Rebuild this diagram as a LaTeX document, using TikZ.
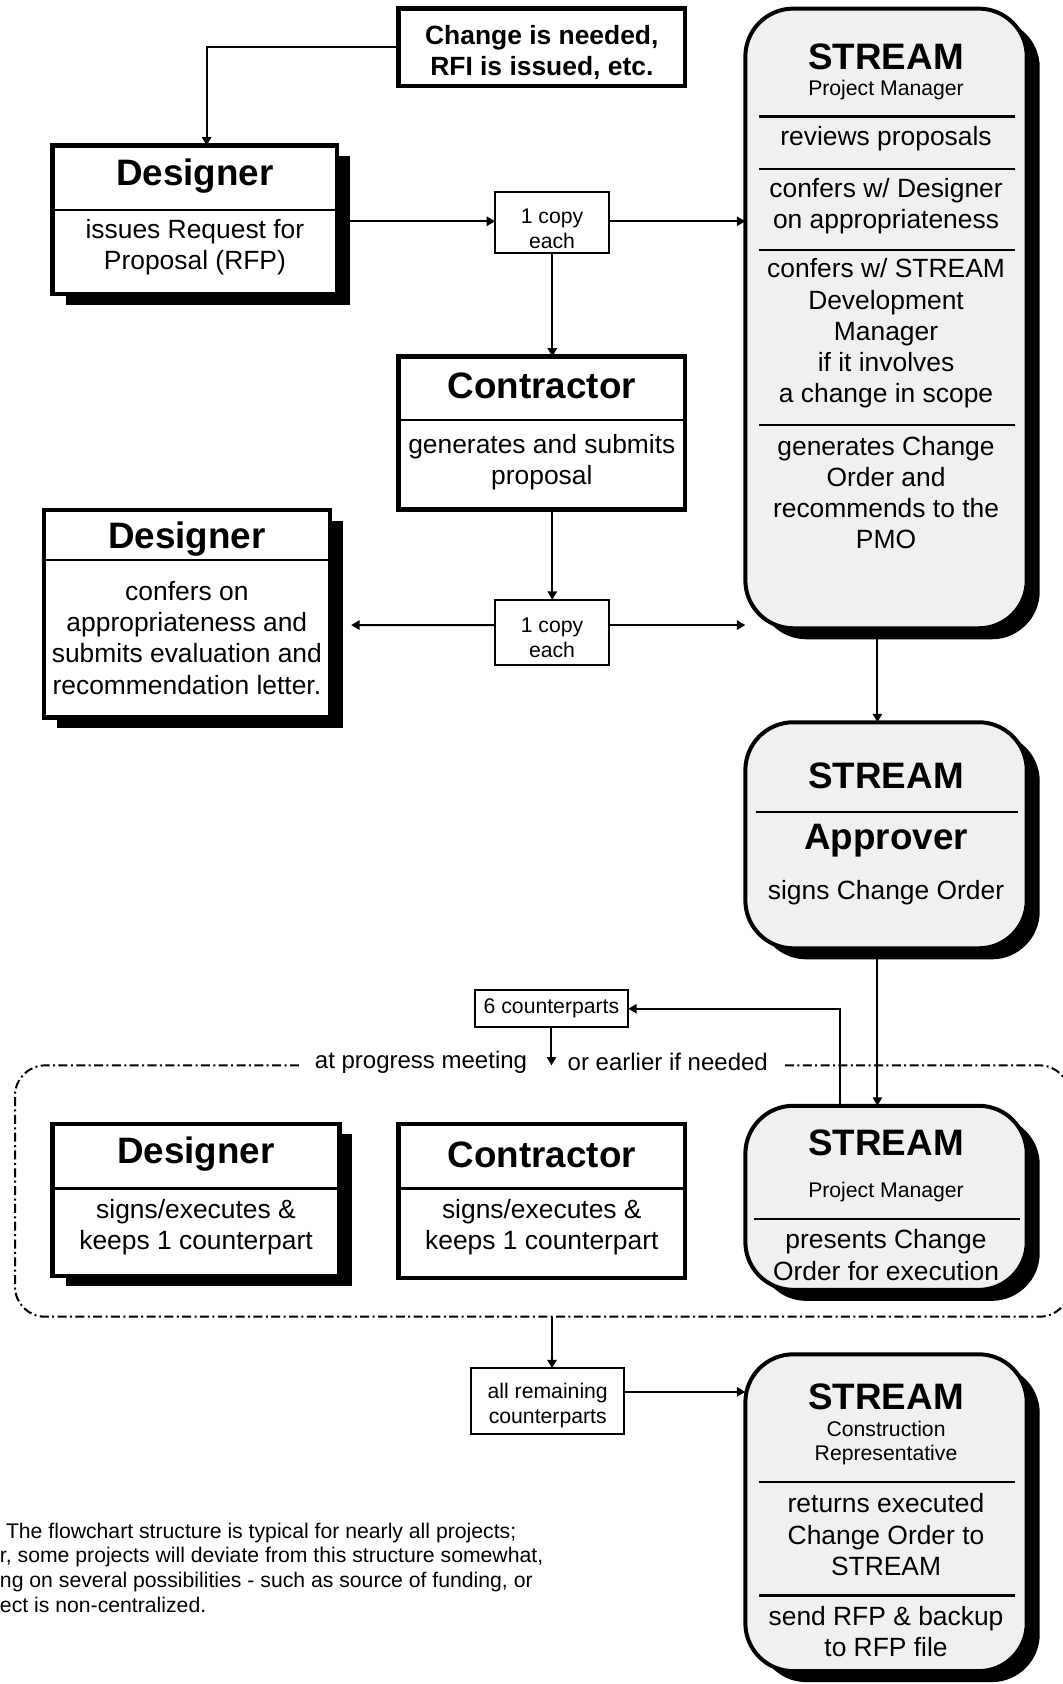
\documentclass[tikz,border=0pt]{standalone}
\usepackage{fontspec}
\setmainfont{Liberation Sans}
\usetikzlibrary{arrows.meta,shadows,fit}
\definecolor{boxgray}{RGB}{240,240,240}
\begin{document}
\begin{tikzpicture}[x=0.5369pt,y=-0.5369pt,
  every node/.style={inner sep=0pt,outer sep=0pt},
  arr/.style={line width=1pt,-{Triangle[length=4.2pt,width=4.6pt]}},
  rbox/.style={draw,line width=2.2pt,fill=white,inner sep=0pt},
  sbox/.style={rbox,general shadow={fill=black,shadow xshift=6.5pt,shadow yshift=-5.2pt}},
  stbox/.style={draw,line width=2pt,fill=boxgray,rounded corners=24pt,inner sep=0pt,
    general shadow={fill=black,shadow xshift=6.5pt,shadow yshift=-5.5pt}},
  cbox/.style={draw,line width=1pt,fill=white,inner sep=0pt},
  sepl/.style={line width=1.3pt},
  ttl/.style={font=\fontsize{18.4}{22}\selectfont\bfseries},
  bd/.style={font=\fontsize{13.2}{15.6}\selectfont,align=center},
  bdb/.style={font=\fontsize{13.2}{15.6}\selectfont\bfseries,align=center},
  sm/.style={font=\fontsize{10.6}{12.3}\selectfont,align=center},
  lab/.style={font=\fontsize{12}{14}\selectfont,inner xsep=8pt,inner ysep=1pt},
  frame/.style={line width=1pt,dash pattern=on 4.5pt off 1.7pt on 1pt off 1.7pt,rounded corners=15pt},
]
\useasboundingbox[fill=white] (0,0) rectangle (989,1568);

% ---------- boxes ----------
\node[rbox, fit={(371,8) (638,80)}] (chg) {};
\node[sbox, fit={(49,135.5) (314,274)}] (d1) {};
\node[cbox, fit={(461,179) (567.5,235.5)}] (c1) {};
\node[stbox, fit={(694,8) (956,585)}] (pm1) {};
\node[rbox, fit={(371,332) (638,474.5)}] (ctr) {};
\node[cbox, fit={(461,558.5) (567.5,619.5)}] (c2) {};
\node[sbox, fit={(41,475) (307,668)}] (d2) {};
\node[stbox, fit={(694,672.5) (956,883)}] (ap) {};
\node[cbox, fit={(442,922) (585,956.5)}] (c6) {};
\node[sbox, fit={(49,1046.6) (316,1188)}] (d3) {};
\node[rbox, fit={(371,1046.6) (638,1190)}] (ctr2) {};
\node[stbox, fit={(694,1029.6) (956,1201)}] (pm2) {};
\node[cbox, fit={(439,1274) (581,1335)}] (ar) {};
\node[stbox, fit={(694,1261) (956,1556)}] (cr) {};

% ---------- separators ----------
\draw[sepl] (d1.west |- 0,195.6) -- (d1.east |- 0,195.6);
\draw[sepl] (ctr.west |- 0,391) -- (ctr.east |- 0,391);
\draw[sepl] (d2.west |- 0,521.5) -- (d2.east |- 0,521.5);
\draw[sepl] (d3.west |- 0,1106.5) -- (d3.east |- 0,1106.5);
\draw[sepl] (ctr2.west |- 0,1106.5) -- (ctr2.east |- 0,1106.5);
\foreach \yy in {108.7,157.4,232.8,395.8}{\draw[sepl] (707,\yy) -- (945,\yy);}
\draw[sepl] (703.5,755.9) -- (948.3,755.9);
\draw[sepl] (702,1135) -- (949.5,1135);
\draw[sepl] (707,1380) -- (945,1380);
\draw[sepl] (707,1485.4) -- (945,1485.4);

% ---------- texts ----------
\node[bdb] (chgT) at (504.5,49) {Change is needed,\\RFI is issued, etc.};
\node[ttl] (d1T) at (181.5,164) {Designer};
\node[bd] (d1B) at (181.5,230.5) {issues Request for\\Proposal (RFP)};
\node[sm] (c1T) at (514,213) {1 copy\\each};
\node[ttl] (pm1T) at (825,53) {STREAM};
\node[sm] (pm1S) at (825,84) {Project Manager};
\node[bd] (pm1a) at (825,129.5) {reviews proposals};
\node[bd] (pm1b) at (825,192) {confers w/ Designer\\on appropriateness};
\node[bd] (pm1c) at (825,310.5) {confers w/ STREAM\\Development\\Manager\\if it involves\\a change in scope};
\node[bd] (pm1d) at (825,458.5) {generates Change\\Order and\\recommends to the\\PMO};
\node[ttl] (ctrT) at (504.5,359) {Contractor};
\node[bd] (ctrB) at (504.5,430) {generates and submits\\proposal};
\node[sm] (c2T) at (514,593.7) {1 copy\\each};
\node[ttl] (d2T) at (174,502) {Designer};
\node[bd] (d2B) at (174,594) {confers on\\appropriateness and\\submits evaluation and\\recommendation letter.};
\node[ttl] (apT) at (825,722.5) {STREAM};
\node[ttl] (apA) at (825,783) {Approver};
\node[bd] (apB) at (825,831.5) {signs Change Order};
\node[sm] (c6T) at (513.5,938.5) {6 counterparts};
\node[lab] (l1) at (392,989) {at progress meeting};
\node[lab] (l2) at (621.8,989) {or earlier if needed};
\node[ttl] (d3T) at (182.5,1075) {Designer};
\node[bd] (d3B) at (182.5,1142.5) {signs/executes \&\\keeps 1 counterpart};
\node[ttl] (ctr2T) at (504.5,1075) {Contractor};
\node[bd] (ctr2B) at (504.5,1142.5) {signs/executes \&\\keeps 1 counterpart};
\node[ttl] (pm2T) at (825,1064) {STREAM};
\node[sm] (pm2S) at (825,1110) {Project Manager};
\node[bd] (pm2B) at (825,1168.5) {presents Change\\Order for execution};
\node[sm] (arT) at (510,1308.5) {all remaining\\counterparts};
\node[ttl] (crT) at (825,1301) {STREAM};
\node[sm] (crS) at (825,1343.5) {Construction\\Representative};
\node[bd] (crB) at (825,1429) {returns executed\\Change Order to\\STREAM};
\node[bd] (crC) at (825,1519) {send RFP \& backup\\to RFP file};
\node[font=\fontsize{10.6}{12.35}\selectfont, align=left, anchor=west] (note) at (0,1459.5)
  {\hspace*{3pt}The flowchart structure is typical for nearly all projects;\\r, some projects will deviate from this structure somewhat,\\ng on several possibilities - such as source of funding, or\\ect is non-centralized.};

% ---------- frame ----------
\coordinate (meet) at (513.5,992);
\coordinate (fbot) at (514,1226);
\draw[frame] (l1.west |- 0,992) -- (14,992) -- (14,1226) -- (996,1226) -- (996,992) -- (l2.east |- 0,992);

% ---------- connectors ----------
\draw[arr] (chg.west) -| (d1.north -| 192.4,0);
\draw[arr] (d1.east |- 0,206) -- (c1.west |- 0,206);
\draw[arr] (c1.east |- 0,206) -- (pm1.west |- 0,206);
\draw[arr] (c1.south) -- (c1.south |- ctr.north);
\draw[arr] (ctr.south -| c2.north) -- (c2.north);
\draw[arr] (c2.west |- 0,582) -- ([xshift=10.7pt,yshift=-5.64pt]d2.east);
\draw[arr] (c2.east |- 0,582) -- (pm1.west |- 0,582);
\draw[arr] (pm1.south -| 817,0) -- (ap.north -| 817,0);
\draw[arr] (ap.south -| 817,0) -- (pm2.north -| 817,0);
\draw[arr] (pm2.north -| 782,0) |- (c6.east);
\draw[arr] (c6.south) -- (meet);
\draw[arr] (fbot) -- (fbot |- ar.north);
\draw[arr] (ar.east |- 0,1296) -- (cr.west |- 0,1296);
\end{tikzpicture}
\end{document}
